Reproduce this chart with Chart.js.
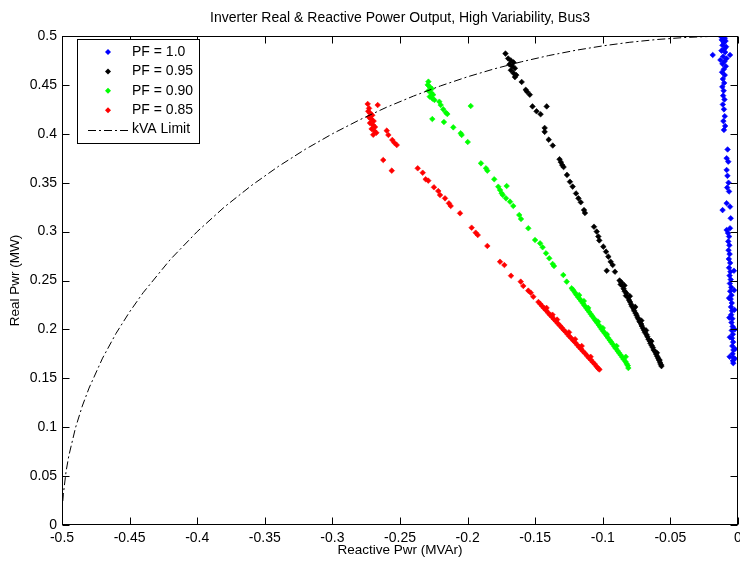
<!DOCTYPE html>
<html>
<head>
<meta charset="utf-8">
<script src="https://cdn.jsdelivr.net/npm/chart.js@4.4.1/dist/chart.umd.min.js"></script>
<style>
  html, body { margin: 0; padding: 0; background: #fff; }
  #wrap { width: 740px; height: 562px; }
</style>
</head>
<body>
<div id="wrap"><canvas id="pqChart" width="740" height="562"></canvas></div>
<script>
const chartTitle = 'Inverter Real & Reactive Power Output, High Variability, Bus3';
const xTitle = 'Reactive Pwr (MVAr)';
const yTitle = 'Real Pwr (MW)';
const seriesLabels = ['PF = 1.0', 'PF = 0.95', 'PF = 0.90', 'PF = 0.85', 'kVA Limit'];

const xTickValues = [-0.5, -0.45, -0.4, -0.35, -0.3, -0.25, -0.2, -0.15, -0.1, -0.05, 0];
const xTickLabels = ['-0.5', '-0.45', '-0.4', '-0.35', '-0.3', '-0.25', '-0.2', '-0.15', '-0.1', '-0.05', '0'];
const yTickValues = [0, 0.05, 0.1, 0.15, 0.2, 0.25, 0.3, 0.35, 0.4, 0.45, 0.5];
const yTickLabels = ['0', '0.05', '0.1', '0.15', '0.2', '0.25', '0.3', '0.35', '0.4', '0.45', '0.5'];

// [reactive MVAr, real MW]
const pf100 = [
  [-0.0125,0.4993],[-0.0110,0.4985],[-0.0098,0.4978],[-0.0120,0.4960],[-0.0092,0.4950],[-0.0105,0.4930],
  [-0.0115,0.4905],[-0.0088,0.4890],[-0.0100,0.4870],[-0.0122,0.4850],[-0.0095,0.4835],[-0.0187,0.4806],
  [-0.0059,0.4806],[-0.0110,0.4790],[-0.0085,0.4770],[-0.0130,0.4755],[-0.0100,0.4740],[-0.0115,0.4715],
  [-0.0090,0.4690],[-0.0105,0.4660],[-0.0118,0.4630],[-0.0098,0.4600],[-0.0112,0.4560],[-0.0102,0.4520],
  [-0.0116,0.4480],[-0.0106,0.4440],[-0.0110,0.4390],[-0.0100,0.4350],[-0.0112,0.4300],[-0.0104,0.4250],
  [-0.0098,0.4180],[-0.0108,0.4130],[-0.0095,0.4080],[-0.0104,0.4040],[-0.0077,0.3840],[-0.0084,0.3750],
  [-0.0072,0.3715],[-0.0084,0.3630],[-0.0078,0.3570],[-0.0070,0.3500],[-0.0080,0.3450],[-0.0066,0.3410],
  [-0.0084,0.3290],[-0.0059,0.3255],[-0.0114,0.3220],[-0.0054,0.3136],[-0.0084,0.3016],[-0.0059,0.3034],
  [-0.0074,0.2985],[-0.0066,0.2950],[-0.0072,0.2900],[-0.0064,0.2860],[-0.0070,0.2810],[-0.0062,0.2770],
  [-0.0068,0.2720],[-0.0058,0.2680],[-0.0066,0.2630],[-0.0056,0.2590],[-0.0062,0.2550],[-0.0054,0.2510],
  [-0.0060,0.2470],[-0.0050,0.2430],[-0.0058,0.2390],[-0.0048,0.2350],[-0.0054,0.2310],[-0.0046,0.2270],
  [-0.0052,0.2230],[-0.0044,0.2190],[-0.0050,0.2150],[-0.0042,0.2110],[-0.0048,0.2070],[-0.0040,0.2030],
  [-0.0046,0.1990],[-0.0038,0.1950],[-0.0044,0.1910],[-0.0036,0.1870],[-0.0042,0.1830],[-0.0034,0.1790],
  [-0.0040,0.1750],[-0.0033,0.1710],[-0.0038,0.1680],[-0.0035,0.1655],[-0.0030,0.2600],[-0.0028,0.2400],
  [-0.0026,0.2200],[-0.0024,0.2000],[-0.0022,0.1800],[-0.0024,0.1700],[-0.0062,0.1720],[-0.0060,0.1920],
  [-0.0064,0.2120],[-0.0066,0.2320]
];

const pf095 = [
  [-0.172,0.482],[-0.170,0.477],[-0.168,0.475],[-0.166,0.473],[-0.169,0.471],[-0.167,0.469],[-0.165,0.467],
  [-0.168,0.465],[-0.166,0.462],[-0.164,0.460],[-0.165,0.458],[-0.160,0.453],[-0.157,0.445],[-0.156,0.443],
  [-0.154,0.440],[-0.152,0.428],[-0.149,0.423],[-0.146,0.420],[-0.1415,0.428],[-0.143,0.406],[-0.143,0.402],
  [-0.140,0.394],[-0.137,0.388],[-0.132,0.374],[-0.131,0.371],[-0.130,0.368],[-0.129,0.366],[-0.1265,0.358],
  [-0.1243,0.351],[-0.1223,0.346],[-0.1198,0.339],[-0.118,0.334],[-0.1163,0.330],[-0.1139,0.322],[-0.1132,0.319],
  [-0.1065,0.305],[-0.1045,0.300],[-0.1033,0.295],[-0.1026,0.291],[-0.0996,0.2846],[-0.0976,0.2795],
  [-0.0959,0.2744],[-0.0942,0.2692],[-0.0927,0.2658],[-0.0971,0.260],[-0.0910,0.259],
  [-0.0876,0.2500],[-0.0862,0.2480],[-0.0868,0.2460],[-0.0850,0.2440],[-0.0846,0.2415],[-0.0838,0.2390],
  [-0.0825,0.2370],[-0.0829,0.2345],[-0.0812,0.2325],[-0.0806,0.2300],[-0.0798,0.2280],[-0.0790,0.2255],
  [-0.0784,0.2235],[-0.0772,0.2210],[-0.0768,0.2190],[-0.0757,0.2165],[-0.0750,0.2145],[-0.0742,0.2120],
  [-0.0733,0.2100],[-0.0728,0.2078],[-0.0716,0.2055],[-0.0712,0.2035],[-0.0702,0.2010],[-0.0694,0.1990],
  [-0.0688,0.1968],[-0.0676,0.1945],[-0.0670,0.1925],[-0.0662,0.1900],[-0.0652,0.1880],[-0.0648,0.1858],
  [-0.0638,0.1835],[-0.0630,0.1815],[-0.0624,0.1790],[-0.0612,0.1770],[-0.0606,0.1748],[-0.0598,0.1725],
  [-0.0590,0.1705],[-0.0582,0.1682],[-0.0576,0.1660],[-0.0570,0.1640],[-0.0566,0.1625],[-0.0583,0.1690],
  [-0.0600,0.1760],[-0.0641,0.1880],[-0.0680,0.1990],[-0.0715,0.2090],[-0.0760,0.2230],[-0.0800,0.2340],
  [-0.0840,0.2450]
];

const pf090 = [
  [-0.2290,0.4533],[-0.2295,0.4500],[-0.2280,0.4480],[-0.2265,0.4460],[-0.2290,0.4440],[-0.2270,0.4420],
  [-0.2255,0.4400],[-0.2280,0.4380],[-0.2260,0.4360],[-0.2245,0.4346],[-0.2209,0.4328],[-0.2199,0.4294],
  [-0.2180,0.4250],[-0.2160,0.4216],[-0.2150,0.4202],[-0.1977,0.4284],[-0.2261,0.4151],[-0.2175,0.4120],
  [-0.2106,0.4066],[-0.2051,0.4005],[-0.2044,0.3988],[-0.1999,0.3916],[-0.1901,0.3698],[-0.1864,0.3647],
  [-0.1854,0.3623],[-0.1803,0.3535],[-0.1773,0.3459],[-0.1760,0.3425],[-0.1748,0.3392],[-0.1740,0.3374],
  [-0.1711,0.3466],[-0.1716,0.3340],[-0.1686,0.3306],[-0.1662,0.3262],[-0.1618,0.3170],[-0.1605,0.3129],
  [-0.1551,0.3034],[-0.1501,0.2914],[-0.1464,0.2880],[-0.1445,0.2840],[-0.1420,0.2778],[-0.1396,0.2727],
  [-0.1371,0.2669],[-0.1361,0.2648],[-0.1292,0.2556],[-0.1267,0.2488],
  [-0.1230,0.2420],[-0.1218,0.2400],[-0.1205,0.2375],[-0.1196,0.2355],[-0.1182,0.2330],[-0.1170,0.2310],
  [-0.1160,0.2290],[-0.1146,0.2265],[-0.1136,0.2245],[-0.1122,0.2220],[-0.1112,0.2200],[-0.1100,0.2178],
  [-0.1088,0.2155],[-0.1078,0.2135],[-0.1064,0.2110],[-0.1054,0.2090],[-0.1042,0.2068],[-0.1030,0.2045],
  [-0.1020,0.2025],[-0.1007,0.2000],[-0.0996,0.1980],[-0.0984,0.1958],[-0.0972,0.1935],[-0.0962,0.1915],
  [-0.0948,0.1890],[-0.0938,0.1870],[-0.0926,0.1848],[-0.0914,0.1825],[-0.0904,0.1805],[-0.0890,0.1780],
  [-0.0880,0.1760],[-0.0868,0.1738],[-0.0856,0.1715],[-0.0846,0.1695],[-0.0832,0.1670],[-0.0824,0.1650],
  [-0.0815,0.1630],[-0.0811,0.1605],[-0.1175,0.2350],[-0.1108,0.2220],[-0.1036,0.2080],[-0.0970,0.1950],
  [-0.0898,0.1830],[-0.0830,0.1720],[-0.1140,0.2290],[-0.1000,0.2015]
];

const pf085 = [
  [-0.2739,0.4305],[-0.2665,0.4294],[-0.2729,0.4260],[-0.2735,0.4230],[-0.2720,0.4210],[-0.2705,0.4190],
  [-0.2730,0.4170],[-0.2712,0.4150],[-0.2695,0.4130],[-0.2722,0.4110],[-0.2700,0.4090],[-0.2685,0.4070],
  [-0.2710,0.4050],[-0.2690,0.4030],[-0.2675,0.4010],[-0.2698,0.3990],[-0.2598,0.4032],[-0.2586,0.3988],
  [-0.2557,0.3937],[-0.2542,0.3909],[-0.2524,0.3885],[-0.2624,0.3732],[-0.2561,0.3623],[-0.2369,0.3647],
  [-0.2332,0.3602],[-0.2310,0.3535],[-0.2291,0.3521],[-0.2249,0.3453],[-0.2217,0.3415],[-0.2204,0.3374],
  [-0.2167,0.3340],[-0.2138,0.3289],[-0.2125,0.3262],[-0.2056,0.3187],[-0.1970,0.3040],[-0.1940,0.2989],
  [-0.1925,0.2965],[-0.1854,0.2853],[-0.1760,0.2692],[-0.1728,0.2658],[-0.1679,0.2549],[-0.1607,0.2488],
  [-0.1588,0.2444],[-0.1551,0.2396],[-0.1533,0.2375],[-0.1514,0.2334],
  [-0.1476,0.2280],[-0.1462,0.2260],[-0.1450,0.2240],[-0.1434,0.2215],[-0.1420,0.2195],[-0.1404,0.2170],
  [-0.1392,0.2150],[-0.1376,0.2128],[-0.1362,0.2105],[-0.1348,0.2085],[-0.1332,0.2060],[-0.1318,0.2040],
  [-0.1304,0.2018],[-0.1290,0.1995],[-0.1276,0.1975],[-0.1260,0.1950],[-0.1248,0.1930],[-0.1232,0.1908],
  [-0.1218,0.1885],[-0.1204,0.1865],[-0.1188,0.1840],[-0.1176,0.1820],[-0.1160,0.1798],[-0.1146,0.1775],
  [-0.1132,0.1755],[-0.1116,0.1730],[-0.1104,0.1710],[-0.1088,0.1688],[-0.1074,0.1665],[-0.1060,0.1645],
  [-0.1046,0.1620],[-0.1034,0.1600],[-0.1025,0.1590],[-0.1416,0.2220],[-0.1338,0.2100],[-0.1250,0.1970],
  [-0.1156,0.1830],[-0.1090,0.1720],[-0.1372,0.2150],[-0.1205,0.1900]
];

const kvaLimitQ = [-0.4994, -0.499, -0.497, -0.495, -0.49, -0.485, -0.48, -0.47, -0.46, -0.45, -0.44, -0.42,
  -0.40, -0.38, -0.36, -0.34, -0.32, -0.30, -0.28, -0.26, -0.24, -0.22, -0.20, -0.18, -0.16, -0.14,
  -0.12, -0.10, -0.08, -0.06, -0.04, -0.02, 0];
const kvaLimitP = [0.0245, 0.0316, 0.0547, 0.0705, 0.0995, 0.1216, 0.14, 0.1706, 0.196, 0.2179, 0.2375, 0.2713,
  0.30, 0.325, 0.347, 0.3666, 0.3842, 0.40, 0.4142, 0.4271, 0.4386, 0.449, 0.4583, 0.4665, 0.4737, 0.48,
  0.4854, 0.4899, 0.4936, 0.4964, 0.4984, 0.4996, 0.5];

const seriesColors = ['#0000ff', '#000000', '#00ff00', '#ff0000', '#000000'];
const fontFamily = "'Liberation Sans', Arial, Helvetica, sans-serif";

function toPoints(pairs) {
  return pairs.map(([q, p]) => ({ x: q, y: p }));
}

function scatterSet(i, pairs) {
  return {
    label: seriesLabels[i],
    data: toPoints(pairs),
    pointStyle: 'rectRot',
    pointRadius: 2.8,
    pointBorderWidth: 0.6,
    pointBackgroundColor: seriesColors[i],
    pointBorderColor: seriesColors[i],
    showLine: false,
    order: 1
  };
}

// matlab style frame, inward ticks, title and legend box
const matlabDecor = {
  id: 'matlabDecor',
  afterDraw(chart) {
    const { ctx, chartArea: a, scales: { x, y } } = chart;
    const L = Math.round(a.left) + 0.5, R = Math.round(a.right) - 0.5;
    const T = Math.round(a.top) + 0.5, B = Math.round(a.bottom) - 0.5;
    ctx.save();
    ctx.strokeStyle = '#000';
    ctx.lineWidth = 1;
    ctx.strokeRect(L, T, R - L, B - T);
    ctx.beginPath();
    x.ticks.forEach(t => {
      const px = Math.round(x.getPixelForValue(t.value)) + 0.5;
      ctx.moveTo(px, B); ctx.lineTo(px, B - 7);
      ctx.moveTo(px, T); ctx.lineTo(px, T + 7);
    });
    y.ticks.forEach(t => {
      const py = Math.round(y.getPixelForValue(t.value)) + 0.5;
      ctx.moveTo(L, py); ctx.lineTo(L + 7, py);
      ctx.moveTo(R, py); ctx.lineTo(R - 7, py);
    });
    ctx.stroke();

    ctx.fillStyle = '#000';
    ctx.font = '14px ' + fontFamily;
    ctx.textAlign = 'center';
    ctx.textBaseline = 'middle';
    ctx.fillText(chartTitle, (a.left + a.right) / 2, 18);

    // legend
    const box = { left: 77.5, top: 39.5, w: 122, h: 104 };
    ctx.fillStyle = '#fff';
    ctx.fillRect(box.left, box.top, box.w, box.h);
    ctx.strokeRect(box.left, box.top, box.w, box.h);
    ctx.font = '14px ' + fontFamily;
    ctx.textAlign = 'left';
    chart.data.datasets.forEach((ds, i) => {
      const cy = 52 + i * 19.4;
      if (ds.showLine) {
        ctx.save();
        ctx.strokeStyle = ds.borderColor;
        ctx.setLineDash(ds.borderDash);
        ctx.beginPath();
        ctx.moveTo(88, Math.round(cy) + 0.5);
        ctx.lineTo(128, Math.round(cy) + 0.5);
        ctx.stroke();
        ctx.restore();
      } else {
        ctx.fillStyle = ds.pointBackgroundColor;
        ctx.beginPath();
        ctx.moveTo(108, cy - 3); ctx.lineTo(111, cy); ctx.lineTo(108, cy + 3); ctx.lineTo(105, cy);
        ctx.closePath();
        ctx.fill();
      }
      ctx.fillStyle = '#000';
      ctx.fillText(ds.label, 132, cy);
    });
    ctx.restore();
  }
};

document.addEventListener('DOMContentLoaded', () => {
  const ctx = document.getElementById('pqChart').getContext('2d');
  const tickFont = { family: fontFamily, size: 14 };
  const titleFont = { family: fontFamily, size: 13.5 };

  const kvaData = kvaLimitQ.map((q, i) => ({ x: q, y: kvaLimitP[i] }));

  new Chart(ctx, {
    type: 'scatter',
    data: {
      datasets: [
        scatterSet(0, pf100),
        scatterSet(1, pf095),
        scatterSet(2, pf090),
        scatterSet(3, pf085),
        {
          label: seriesLabels[4],
          data: kvaData,
          showLine: true,
          borderColor: seriesColors[4],
          borderWidth: 1,
          borderDash: [8, 3, 2, 3],
          pointRadius: 0,
          tension: 0,
          order: 0
        }
      ]
    },
    options: {
      responsive: false,
      animation: false,
      layout: { autoPadding: false, padding: { top: 36, right: 2, left: 0, bottom: 0 } },
      scales: {
        x: {
          type: 'linear',
          min: -0.5,
          max: 0,
          afterBuildTicks: s => { s.ticks = xTickValues.map(v => ({ value: v })); },
          afterFit: s => { s.height = 37; s.paddingLeft = 0; s.paddingRight = 0; },
          ticks: {
            callback: (v, i) => xTickLabels[i],
            color: '#000',
            font: tickFont,
            padding: 5,
            maxRotation: 0,
            autoSkip: false
          },
          grid: { display: false, drawTicks: false },
          border: { display: false },
          title: { display: true, text: xTitle, color: '#000', font: titleFont, padding: { top: 0, bottom: 4 } }
        },
        y: {
          type: 'linear',
          min: 0,
          max: 0.5,
          afterBuildTicks: s => { s.ticks = yTickValues.map(v => ({ value: v })); },
          afterFit: s => { s.width = 62; s.paddingTop = 0; s.paddingBottom = 0; },
          ticks: {
            callback: (v, i) => yTickLabels[i],
            color: '#000',
            font: tickFont,
            padding: 5,
            autoSkip: false
          },
          grid: { display: false, drawTicks: false },
          border: { display: false },
          title: { display: true, text: yTitle, color: '#000', font: titleFont, padding: { top: 7, bottom: 0 } }
        }
      },
      plugins: {
        legend: { display: false },
        title: { display: false },
        tooltip: { enabled: false }
      }
    },
    plugins: [matlabDecor]
  });
});
</script>
</body>
</html>
